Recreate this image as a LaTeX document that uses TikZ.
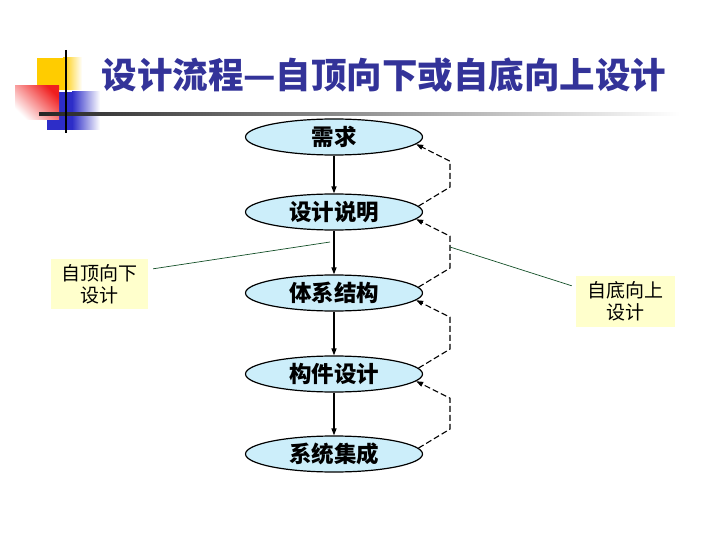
\documentclass[tikz,border=0pt]{standalone}
\usepackage{fontspec}
\newfontfamily\cjk{Noto Sans CJK SC}
\usetikzlibrary{arrows.meta,shapes.geometric,calc}
\definecolor{titleblue}{RGB}{51,51,153}
\definecolor{ellfill}{RGB}{204,238,250}
\definecolor{boxfill}{RGB}{255,255,204}
\definecolor{linegreen}{RGB}{20,80,40}
\definecolor{decoyellow}{RGB}{255,204,0}
\definecolor{decored}{RGB}{240,30,30}
\definecolor{decoblue}{RGB}{45,45,200}
\begin{document}
\begin{tikzpicture}[x=1pt,y=-1pt,
  ell/.style={ellipse, draw=black, line width=1.2pt, fill=ellfill, minimum width=177pt, minimum height=36pt, inner sep=0pt, font=\cjk\bfseries\fontsize{22.5}{22.5}\selectfont},
  flow/.style={-{Triangle[length=7pt,width=5pt]}, line width=1.3pt},
  back/.style={dash pattern=on 6pt off 3pt, line width=1.1pt, -{Triangle[length=7pt,width=5pt]}},
  note/.style={fill=boxfill, minimum width=97pt, minimum height=50pt, inner sep=0pt, align=center, font=\cjk\fontsize{19}{22}\selectfont},
  pointer/.style={linegreen, line width=0.7pt}]
\useasboundingbox (0,0) rectangle (720,540);
\fill[white] (0,0) rectangle (720,540);
% decoration
\fill[decoyellow] (37,58) rectangle (63,90);
\shade[left color=decoyellow, right color=white] (63,58) rectangle (82,90);
\fill[decoblue] (47,92) rectangle (72,130);
\shade[left color=decoblue, right color=white] (72,92) rectangle (100,130);
\shade[top color=decored, bottom color=white, shading angle=-45] (15,86) rectangle (59,120);
\shade[left color=black!85, right color=white] (39,112.5) rectangle (680,115.5);
\draw[black, line width=1.8pt] (66,50) -- (66,133);
% title
\node[font=\cjk\bfseries\fontsize{35.5}{35.5}\selectfont, text=titleblue] (title) at (384,75) {设计流程—自顶向下或自底向上设计};
% ellipses
\node[ell] (a) at (334,137) {需求};
\node[ell] (b) at (334,212) {设计说明};
\node[ell] (c) at (334,293) {体系结构};
\node[ell] (d) at (334,374) {构件设计};
\node[ell] (e) at (334,454) {系统集成};
% flow arrows
\draw[flow] (a.south) -- (b.north);
\draw[flow] (b.south) -- (c.north);
\draw[flow] (c.south) -- (d.north);
\draw[flow] (d.south) -- (e.north);
% dashed back arrows
\coordinate (rail) at (450,0);
\draw[back] (b.4) -- ([yshift=19pt]rail |- b.4) -- ([yshift=-17pt]rail |- a.-5) -- (a.-5);
\draw[back] (c.4) -- ([yshift=19pt]rail |- c.4) -- ([yshift=-17pt]rail |- b.-5) -- (b.-5);
\draw[back] (d.4) -- ([yshift=19pt]rail |- d.4) -- ([yshift=-17pt]rail |- c.-5) -- (c.-5);
\draw[back] (e.4) -- ([yshift=19pt]rail |- e.4) -- ([yshift=-17pt]rail |- d.-5) -- (d.-5);
% notes
\node[note] (td) at (99.5,284) {自顶向下\\设计};
\node[note, minimum width=99pt, minimum height=51pt] (bu) at (625.5,301.5) {自底向上\\设计};
\coordinate (tdend) at (330,242);
\coordinate (buend) at (450,247);
\draw[pointer] ([xshift=5pt,yshift=-10pt]td.north east) -- (tdend);
\draw[pointer] ([xshift=-4pt,yshift=-10pt]bu.north west) -- (buend);
\end{tikzpicture}
\end{document}
